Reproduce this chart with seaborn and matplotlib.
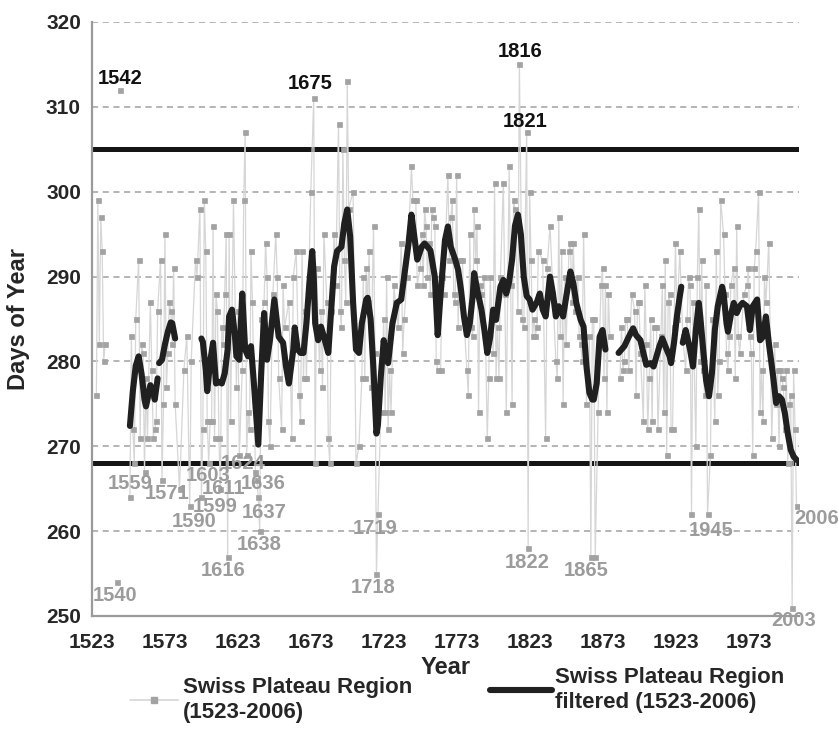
import numpy as np
import pandas as pd
import matplotlib
matplotlib.use("Agg")
import matplotlib.pyplot as plt
import seaborn as sns
from matplotlib.lines import Line2D

sns.set_style("white")
plt.rcParams["font.family"] = ["Liberation Sans", "DejaVu Sans"]
plt.rcParams["font.weight"] = "bold"

# ---------------- data ----------------
raw_years = [
    1526, 1527, 1528, 1529, 1530, 1531, 1532,
    1540,
    1542,
    1549, 1550, 1551, 1552, 1553, 1555, 1556, 1557, 1558, 1559, 1560, 1561, 1563, 1564, 1565, 1566,
    1567, 1568, 1570, 1571, 1572, 1573, 1574, 1575, 1576, 1577, 1578, 1579, 1580, 1583, 1586, 1588,
    1590, 1591, 1594, 1595, 1597, 1598, 1599, 1600, 1601, 1602, 1603, 1604, 1605, 1606, 1607, 1608,
    1609, 1610, 1611, 1612, 1613, 1614, 1615, 1616, 1617, 1618, 1620, 1622, 1623, 1624, 1626, 1627,
    1628, 1629, 1630, 1631, 1632, 1633, 1635, 1636, 1637, 1638, 1639, 1641, 1642, 1643, 1644, 1645,
    1647, 1649, 1650, 1651, 1653, 1654, 1655, 1658, 1660, 1661, 1663, 1665, 1666, 1667, 1668, 1669,
    1670, 1673, 1675, 1676, 1677, 1679, 1680, 1681, 1682, 1684, 1685, 1686, 1687, 1689, 1690, 1692,
    1693, 1694, 1695, 1696, 1697, 1698, 1699, 1702, 1704, 1706, 1708, 1709, 1710, 1711, 1712, 1713,
    1714, 1716, 1717, 1718, 1719, 1721, 1723, 1724, 1725, 1726, 1727, 1728, 1730, 1731, 1733, 1735,
    1736, 1737, 1739, 1742, 1743, 1745, 1746, 1748, 1749, 1750, 1751, 1752, 1753, 1754, 1755, 1756,
    1757, 1758, 1759, 1760, 1762, 1763, 1764, 1767, 1768, 1769, 1770, 1771, 1772, 1773, 1774, 1775,
    1777, 1778, 1780, 1781, 1782, 1783, 1784, 1785, 1786, 1787, 1788, 1789, 1790, 1792, 1794, 1795,
    1796, 1798, 1799, 1800, 1801, 1802, 1803, 1805, 1806, 1807, 1809, 1810, 1811, 1812, 1813, 1815,
    1816, 1818, 1819, 1821, 1822, 1823, 1824, 1825, 1826, 1827, 1828, 1829, 1832, 1834, 1835, 1837,
    1841, 1842, 1843, 1844, 1845, 1846, 1847, 1848, 1850, 1851, 1852, 1853, 1854, 1856, 1857, 1858,
    1859, 1860, 1862, 1864, 1865, 1866, 1867, 1868, 1870, 1871, 1872, 1873, 1874, 1875, 1876, 1877,
    1878,
    1885, 1886, 1887, 1888, 1889, 1890, 1891, 1893, 1895, 1896, 1897, 1898, 1899, 1901, 1902, 1903,
    1904, 1905, 1906, 1907, 1908, 1910, 1911, 1913, 1914, 1915, 1916, 1917, 1918, 1919, 1920, 1921,
    1922, 1923, 1924, 1926, 1928, 1930, 1931, 1932, 1933, 1934, 1935, 1937, 1938, 1939, 1940, 1941,
    1942, 1943, 1944, 1945, 1947, 1948, 1950, 1951, 1952, 1953, 1954, 1956, 1957, 1958, 1959, 1960,
    1961, 1963, 1964, 1965, 1966, 1967, 1970, 1972, 1973, 1974, 1975, 1976, 1977, 1978, 1980, 1981,
    1982, 1983, 1984, 1985, 1987, 1989, 1991, 1992, 1993, 1994, 1995, 1996, 1997, 1998, 1999, 2000,
    2001, 2002, 2003, 2004, 2005, 2006,
]
raw_days = [
    276, 299, 282, 297, 293, 280, 282,
    254,
    312,
    264, 283, 272, 268, 285, 292, 271, 282, 281, 267, 278, 271, 287, 279, 271, 272,
    273, 286, 292, 266, 275, 295, 277, 281, 287, 286, 282, 291, 275, 265, 279, 283,
    263, 280, 292, 290, 298, 264, 272, 299, 293, 273, 268, 273, 273, 296, 271, 288,
    286, 271, 265, 284, 282, 288, 295, 257, 295, 273, 299, 277, 286, 269, 279, 299,
    307, 269, 274, 272, 293, 287, 267, 266, 264, 260, 285, 287, 294, 290, 273, 270,
    288, 295, 290, 278, 272, 289, 284, 287, 271, 290, 293, 276, 273, 293, 278, 286,
    278, 300, 311, 268, 291, 279, 286, 277, 295, 287, 271, 268, 286, 295, 289, 308,
    286, 284, 305, 292, 287, 313, 298, 300, 268, 270, 278, 290, 278, 291, 287, 293,
    277, 296, 281, 255, 262, 274, 285, 274, 290, 272, 279, 274, 289, 287, 284, 294,
    281, 285, 290, 303, 299, 299, 289, 291, 295, 289, 298, 296, 290, 294, 288, 298,
    297, 296, 280, 279, 279, 290, 288, 302, 292, 297, 299, 288, 287, 302, 284, 292,
    292, 285, 279, 276, 295, 284, 283, 298, 292, 296, 274, 289, 288, 290, 271, 278,
    290, 281, 301, 278, 284, 278, 290, 301, 288, 274, 303, 289, 275, 299, 298, 286,
    315, 285, 284, 307, 258, 300, 292, 283, 285, 283, 284, 293, 292, 271, 291, 296,
    280, 278, 297, 283, 293, 275, 290, 282, 293, 294, 287, 294, 286, 290, 283, 282,
    280, 295, 275, 283, 257, 285, 285, 257, 274, 283, 289, 291, 278, 289, 274, 288,
    283,
    278, 284, 279, 280, 285, 285, 279, 288, 286, 276, 287, 287, 281, 273, 289, 282,
    272, 278, 285, 273, 284, 284, 272, 283, 289, 274, 292, 269, 287, 288, 272, 272,
    284, 294, 285, 293, 283, 279, 285, 290, 289, 262, 287, 270, 290, 298, 280, 292,
    279, 276, 289, 262, 269, 285, 273, 293, 276, 280, 299, 295, 288, 281, 279, 283,
    289, 291, 278, 296, 283, 281, 288, 289, 291, 283, 281, 269, 291, 293, 300, 274,
    279, 273, 290, 287, 294, 271, 282, 275, 279, 270, 279, 278, 277, 272, 279, 268,
    275, 276, 251, 279, 272, 263,
]
raw_segment_starts = [1540, 1542, 1549, 1885]

filt_years = [
    1549, 1551, 1553, 1555, 1557, 1559, 1560, 1561, 1563, 1565, 1566, 1568,
    1569, 1571, 1573, 1575, 1577, 1578, 1580,
    1598, 1599, 1601, 1602, 1604, 1606, 1608, 1610, 1612, 1614, 1616, 1617, 1619, 1621, 1622, 1624,
    1626, 1628, 1630, 1632, 1634, 1637, 1639, 1641, 1643, 1645, 1648, 1651, 1654, 1656, 1658, 1661,
    1662, 1664, 1666, 1668, 1670, 1672, 1674, 1675, 1676, 1678, 1680, 1682, 1685, 1687, 1689, 1691,
    1694, 1696, 1698, 1700, 1702, 1704, 1706, 1708, 1711, 1712, 1714, 1716, 1718, 1719, 1721, 1723,
    1724, 1726, 1729, 1732, 1735, 1737, 1740, 1742, 1744, 1746, 1749, 1751, 1753, 1755, 1758, 1760,
    1762, 1765, 1767, 1769, 1772, 1774, 1776, 1778, 1780, 1782, 1784, 1785, 1787, 1790, 1792, 1794,
    1796, 1798, 1800, 1803, 1805, 1807, 1809, 1811, 1813, 1815, 1817, 1819, 1821, 1823, 1825, 1828,
    1830, 1832, 1834, 1836, 1837, 1839, 1841, 1843, 1846, 1848, 1851, 1853, 1855, 1858, 1860, 1862,
    1864, 1866, 1867, 1869, 1871, 1873, 1875,
    1884, 1888, 1891, 1894, 1896, 1899, 1901, 1903, 1906, 1908, 1910, 1912, 1914, 1917, 1919, 1920,
    1922, 1924, 1926, 1927,
    1928, 1930, 1933, 1935, 1937, 1939, 1940, 1942, 1944, 1946, 1948, 1950, 1952, 1955, 1956, 1958,
    1959, 1961, 1963, 1965, 1967, 1969, 1972, 1974, 1976, 1979, 1981, 1983, 1985, 1987, 1990, 1992,
    1994, 1996, 1998, 2000, 2002, 2004, 2006,
]
filt_days = [
    272.4, 276.5, 279.5, 280.6, 278.5, 275.5, 274.7, 275.5, 277.2, 276.5, 275.5, 278.0,
    279.8, 280.2, 282.0, 283.5, 284.6, 284.5, 282.7,
    282.7, 282.3, 279.0, 276.5, 280.0, 282.2, 277.4, 277.6, 277.4, 278.6, 281.4, 285.3, 286.1, 283.0, 280.6, 280.2,
    288.0, 281.4, 280.6, 281.8, 277.4, 270.2, 278.6, 285.7, 280.2, 282.5, 287.3, 282.9, 282.2, 279.4, 277.4, 281.4,
    284.0, 281.4, 281.0, 281.0, 284.5, 289.2, 293.0, 290.0, 284.5, 282.5, 284.1, 282.9, 281.0, 286.1, 291.2, 293.0,
    293.5, 296.3, 297.9, 294.7, 286.9, 281.4, 281.0, 284.5, 287.3, 287.5, 285.0, 279.0, 271.5, 272.5, 278.2, 282.5,
    281.0, 279.8, 284.5, 286.9, 287.3, 290.0, 293.9, 297.3, 294.7, 292.0, 293.5, 293.9, 293.5, 293.1, 290.0, 283.1,
    288.0, 294.3, 295.9, 293.5, 292.0, 290.8, 288.4, 285.3, 283.1, 284.5, 287.7, 290.4, 288.5, 286.1, 283.7, 281.0,
    282.9, 286.1, 284.9, 288.8, 289.6, 288.0, 289.4, 292.0, 296.0, 297.3, 295.0, 290.0, 287.7, 287.3, 286.1, 287.0,
    288.0, 286.1, 285.3, 288.4, 290.0, 288.0, 285.3, 286.5, 285.3, 287.5, 290.6, 289.2, 286.9, 284.9, 284.1, 279.4,
    276.3, 275.5, 275.5, 277.4, 282.9, 283.7, 281.4,
    281.0, 281.8, 282.9, 283.9, 283.1, 282.5, 281.0, 279.6, 279.8, 279.4, 280.6, 281.8, 282.7, 281.4, 280.6, 279.8,
    282.2, 285.3, 287.7, 288.8,
    282.2, 283.7, 281.4, 279.4, 283.7, 286.9, 285.3, 281.4, 277.8, 275.9, 278.6, 283.7, 286.5, 288.8, 288.0, 284.5,
    283.5, 285.5, 286.9, 285.7, 286.5, 286.9, 286.5, 283.7, 286.5, 287.3, 282.5, 282.9, 285.3, 282.2, 278.2, 275.1,
    275.9, 275.5, 273.9, 271.5, 269.6, 268.8, 268.4,
]
filt_segment_starts = [1569, 1598, 1884, 1928]

limit_high = 305
limit_low = 268

x_ticks = list(range(1523, 1974, 50))
y_ticks = list(range(250, 321, 10))

black_labels = ["1542", "1675", "1816", "1821"]
black_label_x = [1542, 1672.5, 1816.4, 1819.9]
black_label_y = [313.4, 312.7, 316.5, 308.3]

grey_labels = ["1540", "1559", "1571", "1590", "1603", "1599", "1611", "1616", "1624", "1636",
               "1637", "1638", "1718", "1719", "1822", "1865", "1945", "2006", "2003"]
grey_label_x = [1538.8, 1549.1, 1574.2, 1593.1, 1602.7, 1607.3, 1613.0, 1613.0, 1626.7, 1640.4,
                1640.9, 1637.5, 1715.9, 1717.0, 1821.5, 1861.5, 1947.4, 2019.9, 2003.8]
grey_label_y = [252.4, 265.6, 264.4, 261.1, 266.6, 262.9, 265.0, 255.4, 268.0, 265.6,
                262.2, 258.4, 253.4, 260.3, 256.3, 255.4, 260.1, 261.5, 249.5]

# ---------------- frames ----------------
raw_df = pd.DataFrame({"year": raw_years, "days": raw_days})
raw_df["seg"] = np.searchsorted(raw_segment_starts, raw_df["year"], side="right")
filt_df = pd.DataFrame({"year": filt_years, "days": filt_days})
filt_df["seg"] = np.searchsorted(filt_segment_starts, filt_df["year"], side="right")

# ---------------- figure ----------------
fig = plt.figure(figsize=(8.39, 7.34), dpi=100)
ax = fig.add_axes([92 / 839, 1 - 616 / 734, 707 / 839, 594 / 734])

GRID = "#a0a0a0"
RAWLINE = "#d6d6d6"
RAWMARK = "#a2a2a2"
DARK = "#202020"

for v in y_ticks[1:]:
    ax.axhline(v, color=GRID, lw=1.1, ls=(0, (4, 3)), zorder=0)

ax.axhline(limit_high, color="#151515", lw=3.6, solid_capstyle="round", zorder=1)
ax.axhline(limit_low, color="#151515", lw=3.6, solid_capstyle="round", zorder=1)

sns.lineplot(data=raw_df, x="year", y="days", units="seg", estimator=None, sort=False,
             color=RAWLINE, lw=0.9, marker="s", markersize=3.6,
             markerfacecolor=RAWMARK, markeredgecolor=RAWMARK, markeredgewidth=0.5,
             legend=False, ax=ax, zorder=3)
sns.lineplot(data=filt_df, x="year", y="days", units="seg", estimator=None, sort=False,
             color=DARK, lw=4.4, solid_capstyle="round", solid_joinstyle="round",
             legend=False, ax=ax, zorder=4)

ax.set_xlim(1523, 2007.7)
ax.set_ylim(250, 320)

for s in ["top", "right"]:
    ax.spines[s].set_visible(False)
for s in ["left", "bottom"]:
    ax.spines[s].set_color("#9a9a9a")
    ax.spines[s].set_linewidth(1.6)

ax.set_yticks(y_ticks)
ax.set_yticklabels([str(t) for t in y_ticks])
ax.set_xticks(x_ticks)
ax.set_xticklabels([str(t) for t in x_ticks])
ax.set_xticks(list(range(1523, 2007, 100)), minor=True)
ax.tick_params(axis="x", which="major", length=0, pad=12, labelsize=15)
ax.tick_params(axis="x", which="minor", length=5, width=1.2, color="#9a9a9a", direction="out")
ax.tick_params(axis="y", which="major", length=4, width=1.2, color="#9a9a9a",
               direction="out", pad=4, labelsize=15)
for lab in ax.get_xticklabels() + ax.get_yticklabels():
    lab.set_fontweight("bold")

ax.set_xlabel("Year", fontsize=17, fontweight="bold", labelpad=3)
ax.set_ylabel("Days of Year", fontsize=17, fontweight="bold")
ax.yaxis.set_label_coords(-(92 - 30) / 707, 0.5)

for t, x, y in zip(black_labels, black_label_x, black_label_y):
    ax.text(x, y, t, ha="center", va="center", fontsize=14.5, fontweight="bold",
            color="#111111", zorder=6)
for t, x, y in zip(grey_labels, grey_label_x, grey_label_y):
    ax.text(x, y, t, ha="center", va="center", fontsize=14.5, fontweight="bold",
            color="#9c9c9c", zorder=6, clip_on=False)

h_raw = Line2D([], [], color=RAWLINE, lw=1.2, marker="s", markersize=4,
               markerfacecolor=RAWMARK, markeredgecolor=RAWMARK)
h_filt = Line2D([], [], color=DARK, lw=4.4)

fig.legend([h_raw], ["Swiss Plateau Region\n(1523-2006)"], loc="center left",
           bbox_to_anchor=(130 / 839, 1 - 700 / 734), frameon=False,
           borderaxespad=0, borderpad=0, handlelength=2.15, handletextpad=0.25,
           prop={"weight": "bold", "size": 16})
fig.legend([h_filt], ["Swiss Plateau Region\nfiltered (1523-2006)"], loc="center left",
           bbox_to_anchor=(490 / 839, 1 - 690 / 734), frameon=False,
           borderaxespad=0, borderpad=0, handlelength=2.8, handletextpad=0.12,
           prop={"weight": "bold", "size": 16})

fig.savefig("out.png", dpi=100)
